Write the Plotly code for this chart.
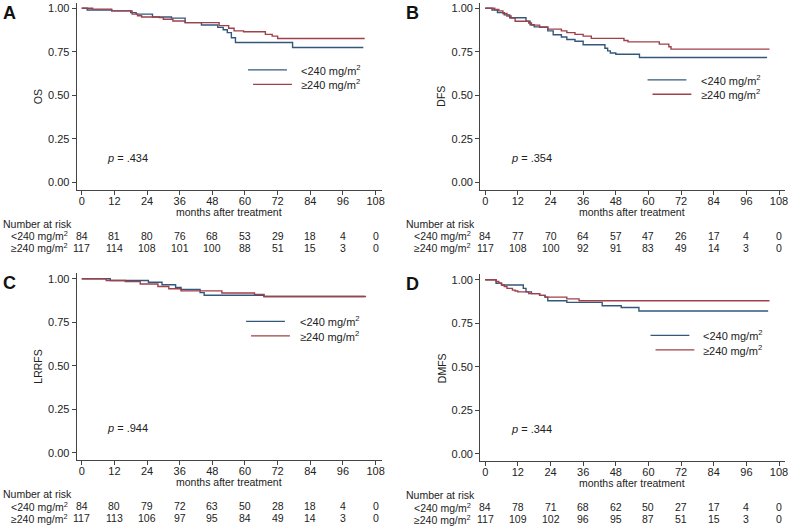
import plotly.graph_objects as go

W, H = 793, 527
FONT = "Liberation Sans, Arial, sans-serif"
BLUE = "rgb(52,88,124)"
RED = "rgb(160,64,74)"
AXC = "#444"

risk_months = [0, 12, 24, 36, 48, 60, 72, 84, 96, 108]

# A - OS
os_lo_t = [0, 2, 11, 18, 20, 26, 33, 38, 44, 50, 52, 53.5, 55, 56.5, 77.5, 103.5]
os_lo_s = [1.0, 0.99, 0.985, 0.975, 0.966, 0.95, 0.943, 0.917, 0.904, 0.89, 0.876, 0.86, 0.83, 0.803, 0.774, 0.774]
os_hi_t = [0, 4, 11, 18.5, 20.5, 22, 28.5, 30, 33.5, 38, 50.5, 54, 56, 59.5, 67.5, 70, 72, 104]
os_hi_s = [1.0, 0.995, 0.985, 0.966, 0.957, 0.95, 0.946, 0.937, 0.927, 0.917, 0.9, 0.885, 0.87, 0.865, 0.85, 0.84, 0.826, 0.826]
os_risk_lo = [84, 81, 80, 76, 68, 53, 29, 18, 4, 0]
os_risk_hi = [117, 114, 108, 101, 100, 88, 51, 15, 3, 0]

# B - DFS
dfs_lo_t = [0, 2.5, 4.5, 7, 9, 15, 16.5, 18, 23, 25, 28, 30, 33, 36, 44, 45, 46, 48, 56.7, 103.6]
dfs_lo_s = [1.0, 0.99, 0.975, 0.962, 0.945, 0.925, 0.905, 0.893, 0.87, 0.848, 0.835, 0.82, 0.81, 0.79, 0.77, 0.755, 0.743, 0.736, 0.717, 0.717]
dfs_hi_t = [0, 3.5, 5, 6.5, 8, 9.5, 11, 16, 17, 20, 23, 28, 30, 33, 36, 39, 51, 52.5, 64, 67.5, 68.3, 104.5]
dfs_hi_s = [1.0, 0.993, 0.985, 0.97, 0.955, 0.943, 0.925, 0.915, 0.903, 0.89, 0.88, 0.87, 0.86, 0.85, 0.84, 0.827, 0.815, 0.807, 0.794, 0.779, 0.765, 0.765]
dfs_risk_lo = [84, 77, 70, 64, 57, 47, 26, 17, 4, 0]
dfs_risk_hi = [117, 108, 100, 92, 91, 83, 49, 14, 3, 0]

# C - LRRFS
lrrfs_lo_t = [0, 10.5, 24.5, 29.5, 34.5, 36.5, 43.5, 45, 67, 104]
lrrfs_lo_s = [1.0, 0.99, 0.98, 0.965, 0.95, 0.938, 0.92, 0.905, 0.898, 0.898]
lrrfs_hi_t = [0, 9, 16, 21.5, 28, 32, 36.5, 51.5, 63.5, 67, 104.5]
lrrfs_hi_s = [1.0, 0.99, 0.983, 0.97, 0.955, 0.942, 0.93, 0.918, 0.91, 0.898, 0.898]
lrrfs_risk_lo = [84, 80, 79, 72, 63, 50, 28, 18, 4, 0]
lrrfs_risk_hi = [117, 113, 106, 97, 95, 84, 49, 14, 3, 0]

# D - DMFS
dmfs_lo_t = [0, 4, 6, 14, 15, 17, 20, 22, 23, 30, 43, 50, 56.5, 104]
dmfs_lo_s = [1.0, 0.98, 0.97, 0.95, 0.93, 0.92, 0.91, 0.9, 0.879, 0.87, 0.85, 0.84, 0.82, 0.82]
dmfs_hi_t = [0, 4, 5, 6, 7, 8, 10, 11, 12, 16, 20, 22, 30, 34.5, 104.5]
dmfs_hi_s = [1.0, 0.99, 0.98, 0.97, 0.96, 0.95, 0.94, 0.935, 0.93, 0.92, 0.91, 0.9, 0.89, 0.879, 0.879]
dmfs_risk_lo = [84, 78, 71, 68, 62, 50, 27, 17, 4, 0]
dmfs_risk_hi = [117, 109, 102, 96, 95, 87, 51, 15, 3, 0]

LO_NAME = "<240 mg/m<sup>2</sup>"
HI_NAME = "≥240 mg/m<sup>2</sup>"

# panel layout in pixels: left, right of x axis; top, bottom of y axis
panels = [
    dict(letter="A", ytitle="OS", p=".434", lo=(os_lo_t, os_lo_s), hi=(os_hi_t, os_hi_s),
         risk=(os_risk_lo, os_risk_hi), box=(77, 383, 2, 189), leg=(249, 69, 300)),
    dict(letter="B", ytitle="DFS", p=".354", lo=(dfs_lo_t, dfs_lo_s), hi=(dfs_hi_t, dfs_hi_s),
         risk=(dfs_risk_lo, dfs_risk_hi), box=(482, 788, 2, 189), leg=(650, 79, 702)),
    dict(letter="C", ytitle="LRRFS", p=".944", lo=(lrrfs_lo_t, lrrfs_lo_s), hi=(lrrfs_hi_t, lrrfs_hi_s),
         risk=(lrrfs_risk_lo, lrrfs_risk_hi), box=(77, 383, 273, 460), leg=(247, 321, 299)),
    dict(letter="D", ytitle="DMFS", p=".344", lo=(dmfs_lo_t, dmfs_lo_s), hi=(dmfs_hi_t, dmfs_hi_s),
         risk=(dmfs_risk_lo, dmfs_risk_hi), box=(482, 788, 274, 461), leg=(653, 335, 704)),
]


def px_x(v):
    return v / W


def px_y(v):
    return 1 - v / H


fig = go.Figure()
annotations = []
shapes = []
layout = {}

for i, pnl in enumerate(panels):
    n = "" if i == 0 else str(i + 1)
    xa, ya = "x" + n, "y" + n
    x0, x1, y0, y1 = pnl["box"]

    for (t, s), col, name in [(pnl["lo"], BLUE, LO_NAME), (pnl["hi"], RED, HI_NAME)]:
        fig.add_trace(go.Scatter(
            x=t, y=s, mode="lines", line=dict(color=col, width=1.4, shape="hv"),
            name=name, showlegend=False, xaxis=xa, yaxis=ya,
        ))

    layout["xaxis" + n] = dict(
        domain=[px_x(x0), px_x(x1)], anchor=ya, range=[-1.85, 110.2],
        tickvals=risk_months, ticks="outside", ticklen=4, tickcolor=AXC, ticklabelstandoff=-3,
        showline=True, linecolor=AXC, linewidth=1, showgrid=False, zeroline=False,
        tickfont=dict(size=11, color="#222", family=FONT),
    )
    layout["yaxis" + n] = dict(
        domain=[px_y(y1), px_y(y0)], anchor=xa, range=[-0.042, 1.03],
        tickvals=[0, 0.25, 0.5, 0.75, 1.0], tickformat=".2f", ticks="outside", ticklen=4,
        tickcolor=AXC, showline=True, linecolor=AXC, linewidth=1, showgrid=False, zeroline=False,
        tickfont=dict(size=11, color="#222", family=FONT),
    )

    txt = dict(family=FONT, color="#222")
    # panel letter
    annotations.append(dict(text="<b>%s</b>" % pnl["letter"], xref="paper", yref="paper",
                            x=px_x(x0 - 77 + 1), y=px_y(y0 - 2), xanchor="left", yanchor="top",
                            showarrow=False, font=dict(size=18, family=FONT, color="#111")))
    # y title
    annotations.append(dict(text=pnl["ytitle"], xref="paper", yref="paper", textangle=-90,
                            x=px_x(x0 - 39), y=px_y((y0 + y1) / 2), xanchor="center", yanchor="middle",
                            showarrow=False, font=dict(size=10.5, **txt)))
    # x title
    annotations.append(dict(text="months after treatment", xref=xa, yref="paper",
                            x=54, y=px_y(y1 + 22), xanchor="center", yanchor="middle",
                            showarrow=False, font=dict(size=10.5, **txt)))
    # p value
    annotations.append(dict(text="<i>p</i> = " + pnl["p"], xref=xa, yref="paper",
                            x=8.7, y=px_y(y1 - 32), xanchor="left", yanchor="middle",
                            showarrow=False, font=dict(size=11, **txt)))
    # legend
    lx, ly, tx = pnl["leg"]
    for k, (col, name, dx) in enumerate([(BLUE, LO_NAME, 0), (RED, HI_NAME, 5)]):
        yy = ly + k * 14.5
        shapes.append(dict(type="line", xref="paper", yref="paper",
                           x0=px_x(lx + dx), x1=px_x(lx + dx + 39), y0=px_y(yy), y1=px_y(yy),
                           line=dict(color=col, width=1.4)))
        annotations.append(dict(text=name, xref="paper", yref="paper", x=px_x(tx), y=px_y(yy),
                                xanchor="left", yanchor="middle", showarrow=False,
                                font=dict(size=11, **txt)))
    # risk table
    annotations.append(dict(text="Number at risk", xref="paper", yref="paper",
                            x=px_x(x0 - 76), y=px_y(y1 + 34), xanchor="left", yanchor="middle",
                            showarrow=False, font=dict(size=10.5, **txt)))
    lo_r, hi_r = pnl["risk"]
    for k, (name, vals) in enumerate([(LO_NAME, lo_r), (HI_NAME, hi_r)]):
        yy = px_y(y1 + 46 + k * 12)
        annotations.append(dict(text=name, xref=xa, yref="paper", x=0, y=yy, xshift=-12,
                                xanchor="right", yanchor="middle", showarrow=False,
                                font=dict(size=10.5, **txt)))
        for m, v in zip(risk_months, vals):
            annotations.append(dict(text=str(v), xref=xa, yref="paper", x=m, y=yy,
                                    xanchor="center", yanchor="middle", showarrow=False,
                                    font=dict(size=10.5, **txt)))

fig.update_layout(
    width=W, height=H, margin=dict(l=0, r=0, t=0, b=0),
    paper_bgcolor="white", plot_bgcolor="white",
    font=dict(family=FONT, color="#222"),
    showlegend=False, annotations=annotations, shapes=shapes, **layout,
)

fig.write_html("out.html", config={"displayModeBar": False},
               post_script="document.body.style.margin='0';document.body.style.overflow='hidden';")
